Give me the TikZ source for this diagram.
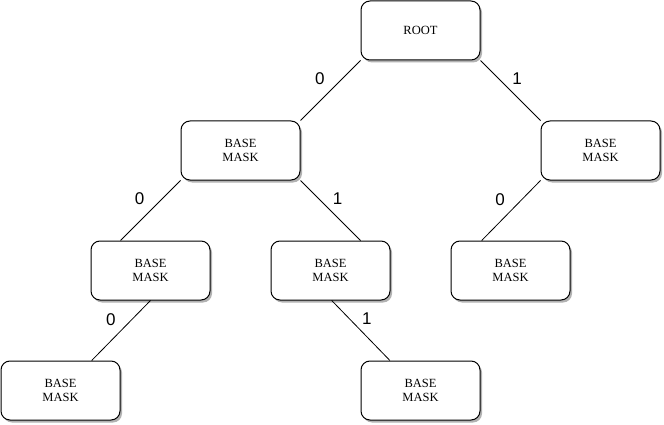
\documentclass[tikz,border=0pt]{standalone}
\usepackage{fontspec}
\setmainfont{Liberation Serif}
\newfontfamily\lblfont{Liberation Sans}
\usetikzlibrary{calc,shadows}
\begin{document}
\begin{tikzpicture}[x=1pt,y=-1pt,
  box/.style={draw=black, line width=1pt, fill=white, rounded corners=9pt,
    minimum width=119pt, minimum height=59pt, inner sep=0pt, align=center,
    font=\fontsize{12.5}{13.5}\selectfont,
    general shadow={fill=black!30, shadow xshift=2pt, shadow yshift=-2.5pt}},
  edge/.style={draw=black, line width=0.8pt},
  lbl/.style={font=\lblfont\fontsize{17}{17}\selectfont, inner sep=0pt}]
\useasboundingbox[fill=white] (0,0) rectangle (664,425);
\node[box] (root) at (420.5,30.5) {ROOT};
\node[box] (L1) at (240.5,150.5) {BASE\\MASK};
\node[box] (R1) at (600.5,150.5) {BASE\\MASK};
\node[box] (LL) at (150.5,270.5) {BASE\\MASK};
\node[box] (LR) at (330.5,270.5) {BASE\\MASK};
\node[box] (RL) at (510.5,270.5) {BASE\\MASK};
\node[box] (LLL) at (60.5,390.5) {BASE\\MASK};
\node[box] (LRR) at (420.5,390.5) {BASE\\MASK};
\draw[edge] (root.south west) -- node[lbl, shift={(-10.75,-11.5)}] {0} (L1.north east);
\draw[edge] (root.south east) -- node[lbl, shift={(6.5,-11.5)}] {1} (R1.north west);
\draw[edge] (L1.south west) -- node[lbl, shift={(-11,-11.5)}] {0} ($(LL.north west)!0.25!(LL.north east)$);
\draw[edge] (L1.south east) -- node[lbl, shift={(7,-11.5)}] {1} ($(LR.north west)!0.75!(LR.north east)$);
\draw[edge] (R1.south west) -- node[lbl, shift={(-11,-10.5)}] {0} ($(RL.north west)!0.26!(RL.north east)$);
\draw[edge] (LL.south) -- node[lbl, shift={(-10.3,-10.5)}] {0} ($(LLL.north west)!0.76!(LLL.north east)$);
\draw[edge] ($(LR.south west)!0.51!(LR.south east)$) -- node[lbl, shift={(6,-11.5)}] {1} ($(LRR.north west)!0.245!(LRR.north east)$);
\end{tikzpicture}
\end{document}
